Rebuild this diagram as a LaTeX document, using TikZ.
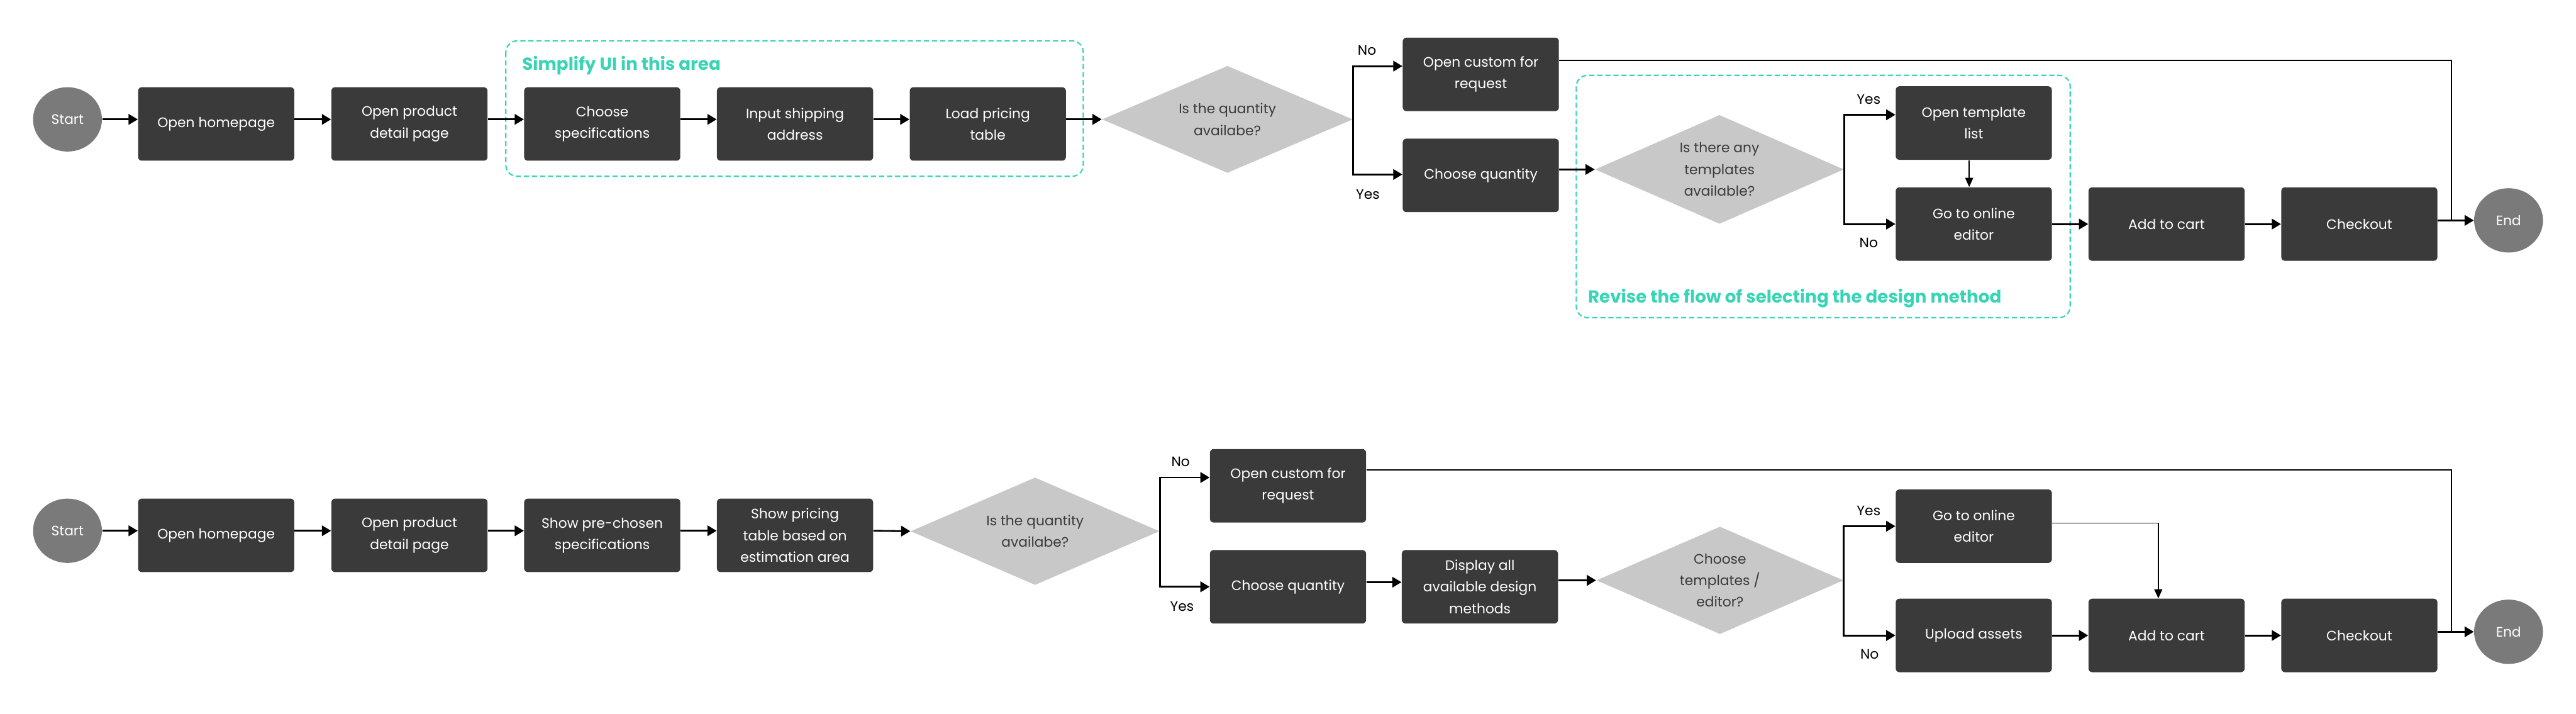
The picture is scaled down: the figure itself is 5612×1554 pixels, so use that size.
\documentclass[tikz,border=0pt]{standalone}
\usepackage{fontspec}
\setmainfont{Poppins}
\usetikzlibrary{arrows.meta,shapes.geometric,calc}
\definecolor{boxc}{HTML}{3A3A3A}
\definecolor{diac}{HTML}{C8C8C8}
\definecolor{ellc}{HTML}{7A7A7A}
\definecolor{tealc}{HTML}{38D4B5}
\newcommand\txtf{\fontsize{8.5}{13.4}\selectfont}
\newcommand\ttlf{\fontsize{10.8}{13}\selectfont\bfseries}
\begin{document}
\begin{tikzpicture}[x=0.01cm,y=-0.01cm,
  box/.style={fill=boxc, rounded corners=2.3pt, minimum width=3.4cm, minimum height=1.6cm, text=white, align=center, font=\txtf, inner sep=0pt},
  term/.style={ellipse, fill=ellc, minimum width=1.5cm, minimum height=1.4cm, text=white, font=\txtf, inner sep=0pt},
  dia/.style={diamond, aspect=2.3, fill=diac, text=boxc, align=center, font=\txtf, inner sep=0pt},
  lbl/.style={font=\txtf, text=black, inner sep=0pt},
  ttl/.style={font=\ttlf, text=tealc, anchor=base west, inner sep=0pt},
  frame/.style={draw=tealc, line width=0.85pt, dash pattern=on 3.2pt off 1.8pt, rounded corners=7pt},
  arr/.style={line width=1.1pt, -{Triangle[length=5.7pt,width=6.5pt]}},
  thinarr/.style={line width=0.6pt, -{Triangle[length=5.7pt,width=5pt]}},
  longline/.style={line width=0.8pt}
]
\useasboundingbox (0,0) rectangle (5612,1554);

% ---------- top flow ----------
\draw[frame] (1102,89) rectangle (2360,384);
\node[ttl] (t1) at (1137,153) {Simplify UI in this area};
\draw[frame] (3434,164) rectangle (4510,692);
\node[ttl] (t2) at (3459,660) {Revise the flow of selecting the design method};

\node[term] (s1) at (147,260) {Start};
\node[box] (hp1) at (471,270) {Open homepage};
\node[box] (pd1) at (892,270) {Open product\\detail page};
\node[box] (cs1) at (1312,270) {Choose\\specifications};
\node[box] (isa1) at (1732,270) {Input shipping\\address};
\node[box] (lpt1) at (2152,270) {Load pricing\\table};
\node[dia, minimum width=5.46cm, minimum height=2.33cm] (d1) at (2674,260) {Is the quantity\\availabe?};
\node[box] (oc1) at (3226,162) {Open custom for\\request};
\node[box] (cq1) at (3226,382) {Choose quantity};
\node[dia, minimum width=5.42cm, minimum height=2.37cm] (d2) at (3746,369) {Is there any\\templates\\available?};
\node[box] (otl1) at (4300,268) {Open template\\list};
\node[box] (ed1) at (4300,488) {Go to online\\editor};
\node[box] (add1) at (4720,488) {Add to cart};
\node[box] (co1) at (5140,488) {Checkout};
\node[term] (e1) at (5465,480) {End};

\node[lbl] (n1) at (2978,109) {No};
\node[lbl] (y1) at (2980,424) {Yes};
\node[lbl] (y2) at (4071,216) {Yes};
\node[lbl] (n2) at (4071,529) {No};

\draw[arr] (s1.east) -- (s1.east -| hp1.west);
\draw[arr] (hp1.east |- s1) -- (pd1.west |- s1);
\draw[arr] (pd1.east |- s1) -- (cs1.west |- s1);
\draw[arr] (cs1.east |- s1) -- (isa1.west |- s1);
\draw[arr] (isa1.east |- s1) -- (lpt1.west |- s1);
\draw[arr] (lpt1.east |- s1) -- (d1.west);
\draw[arr] (d1.east) |- ([yshift=0.18cm]oc1.west);
\draw[arr] (d1.east) |- ([yshift=0.02cm]cq1.west);
\draw[arr] (cq1.east |- d2) -- (d2.west);
\draw[arr] (d2.east) |- ([yshift=0.18cm]otl1.west);
\draw[arr] (d2.east) |- (ed1.west);
\draw[thinarr] ([xshift=-0.1cm]otl1.south) -- ([xshift=-0.1cm]ed1.north);
\draw[arr] (ed1.east) -- (add1.west);
\draw[arr] (add1.east) -- (co1.west);
\draw[arr] (co1.east |- e1) -- (e1.west);
\draw[longline] ([yshift=0.30cm]oc1.east) -| ([xshift=-0.48cm]e1.west);

% ---------- bottom flow ----------
\node[term] (s2) at (147,1156) {Start};
\node[box] (hp2) at (471,1166) {Open homepage};
\node[box] (pd2) at (892,1166) {Open product\\detail page};
\node[box] (sps2) at (1312,1166) {Show pre-chosen\\specifications};
\node[box] (spt2) at (1732,1166) {Show pricing\\table based on\\estimation area};
\node[dia, minimum width=5.42cm, minimum height=2.34cm] (d3) at (2255,1157) {Is the quantity\\availabe?};
\node[box] (oc2) at (2806,1058) {Open custom for\\request};
\node[box] (cq2) at (2806,1278) {Choose quantity};
\node[box] (dam2) at (3224,1278) {Display all\\available design\\methods};
\node[dia, minimum width=5.38cm, minimum height=2.34cm] (d4) at (3747,1264) {Choose\\templates /\\editor?};
\node[box] (ge2) at (4300,1146) {Go to online\\editor};
\node[box] (ua2) at (4300,1384) {Upload assets};
\node[box] (add2) at (4720,1384) {Add to cart};
\node[box] (co2) at (5140,1384) {Checkout};
\node[term] (e2) at (5465,1376) {End};

\node[lbl] (n3) at (2572,1006) {No};
\node[lbl] (y3) at (2575,1321) {Yes};
\node[lbl] (y4) at (4071,1112) {Yes};
\node[lbl] (n4) at (4073,1425) {No};

\draw[arr] (s2.east) -- (s2.east -| hp2.west);
\draw[arr] (hp2.east |- s2) -- (pd2.west |- s2);
\draw[arr] (pd2.east |- s2) -- (sps2.west |- s2);
\draw[arr] (sps2.east |- s2) -- (spt2.west |- s2);
\draw[arr] (spt2.east |- s2) -- (d3.west);
\draw[arr] (d3.east) |- ([yshift=0.18cm]oc2.west);
\draw[arr] (d3.east) |- (cq2.west);
\draw[arr] ([yshift=0.1cm]cq2.east) -- ([yshift=0.1cm]dam2.west);
\draw[arr] (dam2.east |- d4) -- (d4.west);
\draw[arr] (d4.east) |- (ge2.west);
\draw[arr] (d4.east) |- (ua2.west);
\draw[thinarr] ([yshift=0.07cm]ge2.east) -| ([xshift=-0.18cm]add2.north);
\draw[arr] (ua2.east) -- (add2.west);
\draw[arr] (add2.east) -- (co2.west);
\draw[arr] (co2.east |- e2) -- (e2.west);
\draw[longline] ([yshift=0.34cm]oc2.east) -| ([xshift=-0.48cm]e2.west);
\end{tikzpicture}
\end{document}
